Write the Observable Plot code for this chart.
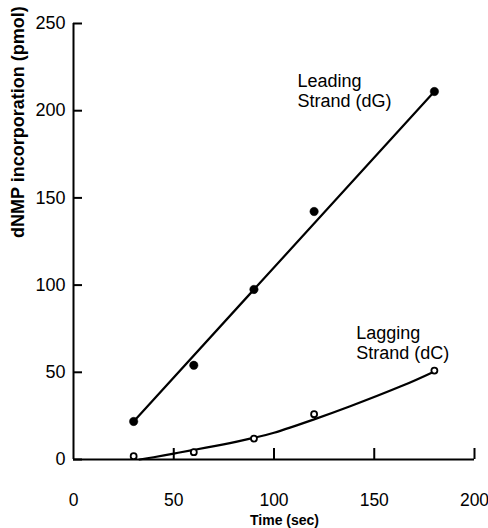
<!DOCTYPE html>
<html>
<head>
<meta charset="utf-8">
<script src="https://cdn.jsdelivr.net/npm/d3@7"></script>
<script src="https://cdn.jsdelivr.net/npm/@observablehq/plot@0.6"></script>
<style>
  html, body { margin: 0; padding: 0; background: #fff; }
  #chart svg { display: block; }
</style>
</head>
<body>
<div id="chart"></div>
<script>
// Data
const times = [30, 60, 90, 120, 180];
const leadingValues = [21.8, 54, 97.5, 142.2, 211];
const laggingValues = [1.9, 4.2, 12, 26, 51];

// Fitted line (leading strand) endpoints as drawn
const leadingFitTimes = [30, 180];
const leadingFitValues = [21.8, 211];

// Fitted curve (lagging strand)
const laggingFitTimes = [33, 40, 50, 60, 78, 90, 100, 120, 138, 163, 180];
const laggingFitValues = [0, 1.3, 3.4, 5.5, 9.4, 12.5, 15.3, 23, 30.5, 41.8, 50.5];

const xTicks = [0, 50, 100, 150, 200];
const yTicks = [0, 50, 100, 150, 200, 250];

const xLabel = "Time (sec)";
const yLabel = "dNMP incorporation (pmol)";

const annotations = [
  {text: "Leading\nStrand (dG)", t: 111.7, v: 221.8},
  {text: "Lagging\nStrand (dC)", t: 141, v: 77.3}
];

const leading = times.map((t, i) => ({t, v: leadingValues[i]}));
const lagging = times.map((t, i) => ({t, v: laggingValues[i]}));
const leadingFit = leadingFitTimes.map((t, i) => ({t, v: leadingFitValues[i]}));
const laggingFit = laggingFitTimes.map((t, i) => ({t, v: laggingFitValues[i]}));

const W = 488, H = 528;
const mL = 73, mR = 14, mT = 23, mB = 69;
const frameW = W - mL - mR, frameH = H - mT - mB;

const chart = Plot.plot({
  width: W,
  height: H,
  marginLeft: mL,
  marginRight: mR,
  marginTop: mT,
  marginBottom: mB,
  style: {fontFamily: "'Liberation Sans', Arial, Helvetica, sans-serif", background: "#fff", color: "#000"},
  x: {domain: [0, 200]},
  y: {domain: [0, 250]},
  marks: [
    // axis lines
    Plot.ruleX([0], {stroke: "#000", strokeWidth: 2}),
    Plot.ruleY([0], {stroke: "#000", strokeWidth: 2}),
    // inward tick marks
    Plot.tickY(yTicks, {y: d => d, stroke: "#000", strokeWidth: 2, insetRight: frameW - 9}),
    Plot.tickX(xTicks.slice(1), {x: d => d, stroke: "#000", strokeWidth: 2, insetTop: frameH - 11}),
    // tick labels
    Plot.axisY({ticks: yTicks, tickSize: 0, tickPadding: 8, fontSize: 18, label: null, tickFormat: d => d}),
    Plot.axisX({ticks: xTicks, tickSize: 0, tickPadding: 34, fontSize: 17.5, label: null, tickFormat: d => d}),
    // leading strand
    Plot.line(leadingFit, {x: "t", y: "v", stroke: "#000", strokeWidth: 2.2}),
    Plot.dot(leading, {x: "t", y: "v", r: 4.2, fill: "#000", stroke: "#000", strokeWidth: 0.5}),
    // lagging strand
    Plot.line(laggingFit, {x: "t", y: "v", stroke: "#000", strokeWidth: 2.2, curve: "natural"}),
    Plot.dot(lagging, {x: "t", y: "v", r: 3, fill: "#fff", stroke: "#000", strokeWidth: 1.8}),
    // annotations
    Plot.text(annotations, {x: "t", y: "v", text: "text", textAnchor: "start", lineAnchor: "top", lineHeight: 1.11, fontSize: 18, fill: "#000"}),
    // axis titles
    Plot.text([xLabel], {frameAnchor: "bottom", dx: 10.5, dy: 65.5, lineAnchor: "bottom", fontSize: 14, fontWeight: "bold", fill: "#000"}),
    Plot.text([yLabel], {frameAnchor: "left", rotate: -90, dx: -54.8, dy: -3.5, lineAnchor: "middle", fontSize: 18, fontWeight: "bold", fill: "#000"})
  ]
});

document.getElementById("chart").appendChild(chart);
</script>
</body>
</html>
